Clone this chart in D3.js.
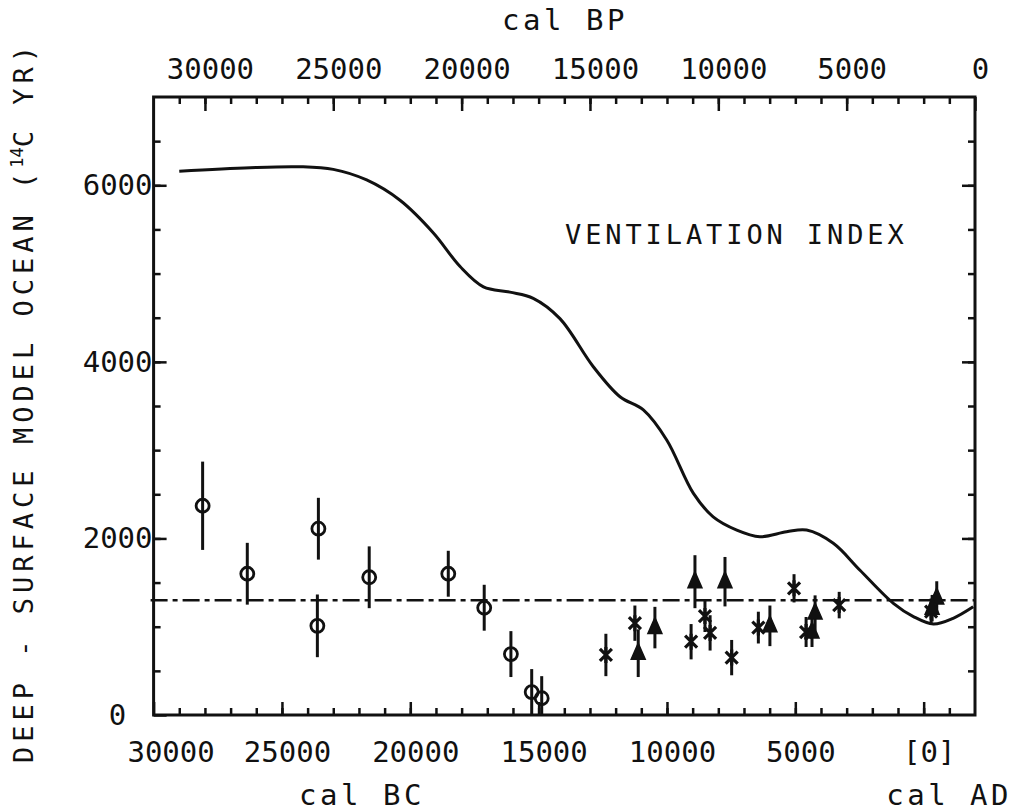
<!DOCTYPE html>
<html>
<head>
<meta charset="utf-8">
<script src="https://cdn.jsdelivr.net/npm/d3@7"></script>
<style>
  body { margin: 0; background: #fff; }
  svg text { font-family: "DejaVu Sans Mono", monospace; fill: #111; }
</style>
</head>
<body>
<div class="chart"></div>
<script>
// ventilation index curve (x in cal BP, y in 14C yr)
const ventBP  = [31000, 28240, 26300, 25000, 23700, 22400, 21100, 20060, 19150, 18120, 17210, 16170, 14870, 13830, 12920, 12010, 10970, 10200, 9280, 8380, 7340, 6560, 5520, 4480, 3180, 2400, 1620, 850, 70]
const ventVal = [6160, 6200, 6210, 6180, 6060, 5830, 5460, 5080, 4850, 4790, 4720, 4490, 3945, 3605, 3455, 3115, 2510, 2245, 2095, 2020, 2075, 2095, 1945, 1640, 1265, 1115, 1030, 1095, 1225]

// circles
const circBP  = [30090, 28350, 25580, 25620, 23600, 20520, 19120, 18080, 17270, 16880]
const circVal = [2370, 1600, 2110, 1010, 1560, 1600, 1215, 690, 260, 190]
const circErr = [500, 350, 350, 355, 350, 260, 260, 260, 260, 250]

// stars
const starBP  = [14380, 13250, 11060, 10520, 10320, 9480, 8440, 7050, 6580, 5290, 1710]
const starVal = [680, 1040, 830, 1120, 930, 650, 990, 1435, 940, 1245, 1170]
const starErr = [240, 200, 200, 180, 200, 200, 180, 160, 170, 150, 150]

// triangles
const triBP  = [13120, 12470, 10910, 9740, 7990, 6230, 6350, 1490, 1670]
const triVal = [700, 990, 1510, 1510, 1010, 1155, 940, 1325, 1210]
const triErr = [270, 235, 300, 280, 230, 200, 170, 190, 150]

const meanLevel = 1300

const bpMajor = [30000, 25000, 20000, 15000, 10000, 5000, 0]
const bcMajor = [30000, 25000, 20000, 15000, 10000, 5000, 0]
const yMajor  = [0, 2000, 4000, 6000]

const W = 1018, H = 811
const m = { left: 153.6, right: 975, top: 97, bottom: 715 }

const x = d3.scaleLinear().domain([32000, 0]).range([m.left, m.right])
const xBC = d3.scaleLinear().domain([30000, -2000]).range([m.left, m.right])
const y = d3.scaleLinear().domain([0, 7000]).range([m.bottom, m.top])

const svg = d3.select(".chart").append("svg")
    .attr("width", W)
    .attr("height", H)

const ink = "#111"

// frame
svg.append("rect")
    .attr("x", m.left).attr("y", m.top)
    .attr("width", m.right - m.left).attr("height", m.bottom - m.top)
    .attr("fill", "none").attr("stroke", ink).attr("stroke-width", 3)

const styleAxis = (g) => {
    g.select(".domain").remove()
    g.selectAll(".tick line").attr("stroke", ink).attr("stroke-width", 2.5)
    g.selectAll(".tick text").style("font-size", "29px").attr("fill", ink)
}

// top axis (cal BP)
svg.append("g").attr("transform", `translate(0,${m.top})`)
    .call(d3.axisTop(x).tickValues(d3.range(1000, 32000, 1000)).tickSize(-7).tickFormat(""))
    .call(styleAxis)
svg.append("g").attr("transform", `translate(0,${m.top})`)
    .call(d3.axisTop(x).tickValues(bpMajor).tickSize(-14).tickPadding(18).tickFormat(d3.format("d")))
    .call(styleAxis)
    .selectAll(".tick text").attr("dx", 5)

// bottom axis (cal BC)
svg.append("g").attr("transform", `translate(0,${m.bottom})`)
    .call(d3.axisBottom(xBC).tickValues(d3.range(-1000, 30000, 1000)).tickSize(-7).tickFormat(""))
    .call(styleAxis)
svg.append("g").attr("transform", `translate(0,${m.bottom})`)
    .call(d3.axisBottom(xBC).tickValues(bcMajor).tickSize(-13).tickPadding(26)
        .tickFormat(d => d === 0 ? "[0]" : d3.format("d")(d)))
    .call(styleAxis)
    .selectAll(".tick text").attr("dx", d => d === 30000 ? 17 : 5)

// left and right axes
svg.append("g").attr("transform", `translate(${m.left},0)`)
    .call(d3.axisLeft(y).tickValues(d3.range(500, 7000, 500)).tickSize(-7).tickFormat(""))
    .call(styleAxis)
svg.append("g").attr("transform", `translate(${m.left},0)`)
    .call(d3.axisLeft(y).tickValues(yMajor).tickSize(-13).tickFormat(d3.format("d")))
    .call(styleAxis)
    .selectAll(".tick text").attr("text-anchor", "middle").attr("x", -36)
svg.append("g").attr("transform", `translate(${m.right},0)`)
    .call(d3.axisRight(y).tickValues(d3.range(500, 7000, 500)).tickSize(-7).tickFormat(""))
    .call(styleAxis)
svg.append("g").attr("transform", `translate(${m.right},0)`)
    .call(d3.axisRight(y).tickValues(yMajor.filter(d => d > 0)).tickSize(-13).tickFormat(""))
    .call(styleAxis)

// mean level, dash-dot
svg.append("line")
    .attr("x1", m.left - 3).attr("x2", m.right)
    .attr("y1", y(meanLevel)).attr("y2", y(meanLevel))
    .attr("stroke", ink).attr("stroke-width", 2.5)
    .attr("stroke-dasharray", "17,5,5,5")

// ventilation index curve
const pts = ventBP.map((d, i) => [x(d), y(ventVal[i])])
svg.append("path")
    .attr("d", d3.line().curve(d3.curveCatmullRom.alpha(0.5))(pts))
    .attr("fill", "none").attr("stroke", ink).attr("stroke-width", 3)

svg.append("text")
    .attr("x", 565).attr("y", 244)
    .style("font-size", "27px").style("letter-spacing", "3.9px")
    .text("VENTILATION INDEX")

// error bars
const errBars = (bp, val, err) => {
    svg.append("g").selectAll("line")
        .data(bp)
        .join("line")
        .attr("x1", d => x(d)).attr("x2", d => x(d))
        .attr("y1", (d, i) => y(Math.max(0, val[i] - err[i])))
        .attr("y2", (d, i) => y(val[i] + err[i]))
        .attr("stroke", ink).attr("stroke-width", 3)
}
errBars(circBP, circVal, circErr)
errBars(starBP, starVal, starErr)
errBars(triBP, triVal, triErr)

// circles
svg.append("g").selectAll("circle")
    .data(circBP)
    .join("circle")
    .attr("cx", d => x(d))
    .attr("cy", (d, i) => y(circVal[i]))
    .attr("r", 6.5)
    .attr("fill", "none").attr("stroke", ink).attr("stroke-width", 2.8)

// stars (x with vertical stroke)
svg.append("g").selectAll("path")
    .data(starBP)
    .join("path")
    .attr("transform", (d, i) => `translate(${x(d)},${y(starVal[i])})`)
    .attr("d", "M-6,-6L6,6M-6,6L6,-6M0,-8L0,8")
    .attr("fill", "none").attr("stroke", ink).attr("stroke-width", 3.2)

// triangles
svg.append("g").selectAll("path")
    .data(triBP)
    .join("path")
    .attr("transform", (d, i) => `translate(${x(d)},${y(triVal[i])})`)
    .attr("d", "M0,-10L7,6L-7,6Z")
    .attr("fill", ink).attr("stroke", ink).attr("stroke-width", 1.5)

// titles
const title = (txt, tx, ty, anchor) => svg.append("text")
    .attr("x", tx).attr("y", ty)
    .attr("text-anchor", anchor)
    .style("font-size", "29px").style("letter-spacing", "3.5px")
    .text(txt)

title("cal BP", 565, 30, "middle")
title("cal BC", 362, 805, "middle")
title("cal AD", 1012, 805, "end")

const ylab = svg.append("text")
    .attr("transform", "translate(33,402) rotate(-90)")
    .attr("text-anchor", "middle")
    .style("font-size", "27px").style("letter-spacing", "5px")
ylab.append("tspan").text("DEEP - SURFACE MODEL OCEAN (")
ylab.append("tspan").text("14").style("font-size", "17px").style("letter-spacing", "0px").attr("dy", -10)
ylab.append("tspan").text("C YR)").attr("dy", 10)
</script>
</body>
</html>
